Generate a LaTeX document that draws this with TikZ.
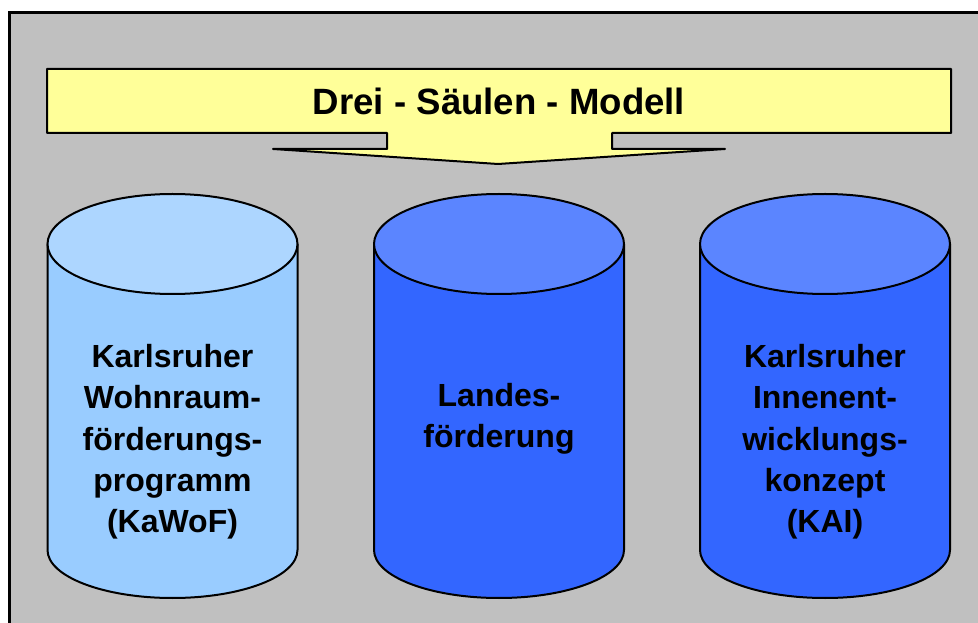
\documentclass[tikz,border=0pt]{standalone}
\usepackage{fontspec}
\setmainfont{Liberation Sans}
\usepackage{xcolor}
\usetikzlibrary{positioning, calc}
\definecolor{panelgray}{HTML}{C0C0C0}
\definecolor{banneryellow}{HTML}{FFFF99}
\definecolor{lightbody}{HTML}{99CCFF}
\definecolor{lightlid}{HTML}{ADD6FF}
\definecolor{darkbody}{HTML}{3366FF}
\definecolor{darklid}{HTML}{5B85FF}

\begin{document}
\begin{tikzpicture}[x=1pt, y=1pt,
  outline/.style={draw=black, line width=2pt, line join=round},
  pillartext/.style={font=\fontsize{32}{41.3}\selectfont\bfseries, align=center}]
\clip (0,0) rectangle (978,622);
% Background panel
\draw[fill=panelgray, line width=3pt] (9,609) rectangle (995,-10);
% Title banner with arrow
\draw[outline, fill=banneryellow] (47,553) -- (951,553) -- (951,489) -- (612,489)
  -- (612,473) -- (725,473) -- (498,458) -- (273,473) -- (387,473) -- (387,489)
  -- (47,489) -- cycle;
\node[font=\fontsize{36.6}{40}\selectfont\bfseries] (title) at (499,521) {Drei - Säulen - Modell};
% Three pillars
\foreach \x/\bodycol/\lidcol in {172.5/lightbody/lightlid, 499/darkbody/darklid, 825/darkbody/darklid} {
  \draw[outline, fill=\bodycol] (\x-125,378) -- (\x-125,72)
    arc[start angle=180, end angle=360, x radius=125, y radius=48] -- (\x+125,378) -- cycle;
  \draw[outline, fill=\lidcol] (\x,378) ellipse[x radius=125, y radius=50];
}
\node[pillartext] (kawof) at (172.5,180) {Karlsruher\\Wohnraum-\\förderungs-\\programm\\(KaWoF)};
\node[pillartext] (land) at (499,203) {Landes-\\förderung};
\node[pillartext] (kai) at (825,180) {Karlsruher\\Innenent-\\wicklungs-\\konzept\\(KAI)};
\end{tikzpicture}
\end{document}
